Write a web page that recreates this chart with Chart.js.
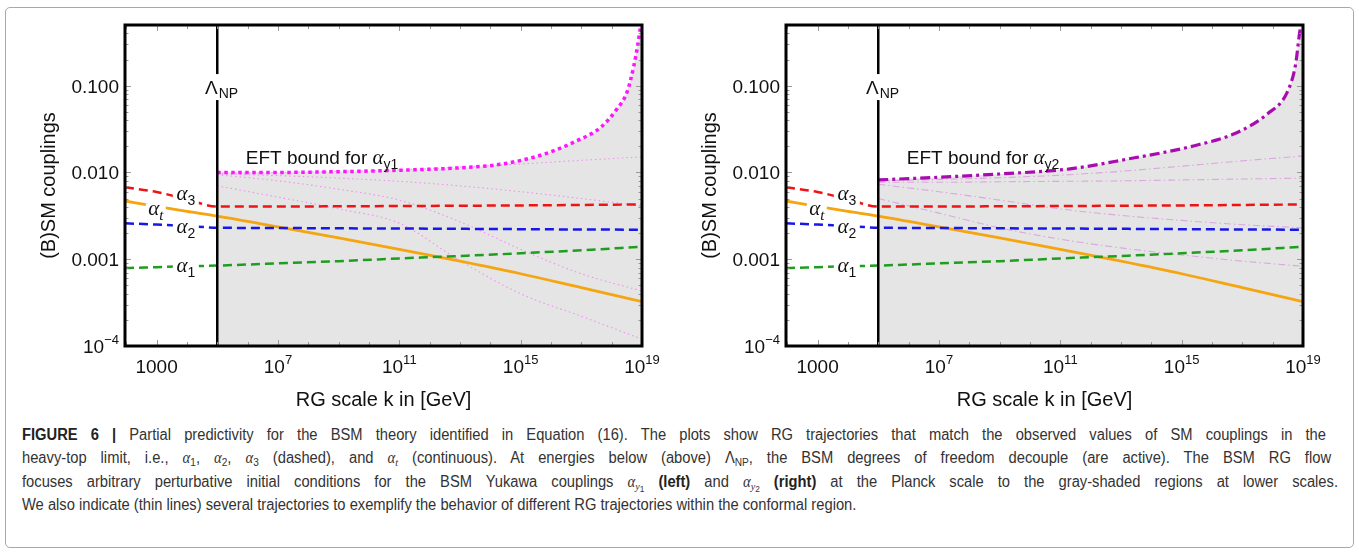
<!DOCTYPE html>
<html>
<head>
<meta charset="utf-8">
<script src="https://cdn.jsdelivr.net/npm/chart.js@4.4.1/dist/chart.umd.min.js"></script>
<style>
  body { margin: 0; background: #fff; width: 1359px; height: 552px; overflow: hidden; position: relative; }
  #box { position: absolute; left: 5px; top: 7px; width: 1349px; height: 541px; border: 1px solid #a8a8a8; border-radius: 5px; box-sizing: border-box; }
  canvas { position: absolute; top: 0; }
  #left { left: 0; }
  #right { left: 661px; }
  .ln { position: absolute; left: 22px; white-space: nowrap; font-family: "Liberation Sans", Arial, sans-serif;
        font-size: 16px; line-height: 20px; color: #333; transform-origin: 0 50%; }
  .ln b { color: #222; }
  .ln i { font-family: "Liberation Serif", serif; }
  .ln sub { font-size: 11px; line-height: 0; vertical-align: -3px; }
  .ln sub sub { font-size: 9px; vertical-align: -2px; }
</style>
</head>
<body>
<div id="box"></div>
<canvas id="left" width="680" height="420"></canvas>
<canvas id="right" width="680" height="420"></canvas>

<div class="ln" style="top:425px" data-w="1304"><b>FIGURE 6 |</b> Partial predictivity for the BSM theory identified in Equation (16). The plots show RG trajectories that match the observed values of SM couplings in the</div>
<div class="ln" style="top:448px" data-w="1309">heavy-top limit, i.e., <i>α</i><sub>1</sub>, <i>α</i><sub>2</sub>, <i>α</i><sub>3</sub> (dashed), and <i>α<sub>t</sub></i> (continuous). At energies below (above) Λ<sub>NP</sub>, the BSM degrees of freedom decouple (are active). The BSM RG flow</div>
<div class="ln" style="top:472px" data-w="1316">focuses arbitrary perturbative initial conditions for the BSM Yukawa couplings <i>α</i><sub><i>y</i><sub>1</sub></sub> <b>(left)</b> and <i>α</i><sub><i>y</i><sub>2</sub></sub> <b>(right)</b> at the Planck scale to the gray-shaded regions at lower scales.</div>
<div class="ln" style="top:495px" data-w="834">We also indicate (thin lines) several trajectories to exemplify the behavior of different RG trajectories within the conformal region.</div>

<script>
// RG scale k [GeV] where the SM couplings are read
const kSM = [91, 1e3, 1e4, 1e5, 1e7, 1e9, 1e11, 1e13, 1e15, 1e17, 1e19];
const alpha3 = [0.00675, 0.00596, 0.0049, 0.00404, 0.00405, 0.00407, 0.0041, 0.00413, 0.00417, 0.00422, 0.00428];
const alpha2 = [0.00259, 0.00251, 0.00241, 0.00231, 0.00229, 0.00227, 0.00226, 0.00224, 0.00222, 0.0022, 0.00219];
const alpha1 = [0.00079, 0.00081, 0.00083, 0.000845, 0.000895, 0.00095, 0.00102, 0.00109, 0.00117, 0.00127, 0.00139];
const alphaT = [0.00469, 0.00406, 0.00356, 0.00314, 0.00236, 0.00176, 0.0013, 0.00095, 0.00068, 0.00047, 0.000325];

const lambdaNP = 1e5;

// EFT bounds (upper edge of the gray region)
const kBound1 = [1e5, 1e7, 1e9, 1e11, 1e13, 2.1e14, 5.8e15, 7.2e16, 4.3e17, 1.5e18, 3.2e18, 5.4e18, 7.2e18, 8.9e18, 1e19];
const boundY1 = [0.0100, 0.0100, 0.0102, 0.0106, 0.0113, 0.0124, 0.0162, 0.0232, 0.033, 0.054, 0.084, 0.17, 0.29, 0.47, 0.6];
const kBound2 = [1e5, 1e7, 1e9, 2.1e11, 1.55e13, 2.45e15, 6.8e16, 6.6e17, 3e18, 5.6e18, 8.1e18, 1e19];
const boundY2 = [0.0082, 0.0088, 0.0096, 0.011, 0.0142, 0.0202, 0.0289, 0.0471, 0.0838, 0.17, 0.45, 0.6];

// thin trajectories inside the conformal region
const kThin = [1e5, 1e7, 1e9, 1e11, 1e13, 1e15, 1e17, 1e19];
const thinY1 = [
  [0.0098, 0.0100, 0.0103, 0.0107, 0.0115, 0.0125, 0.0138, 0.0151],
  [0.0096, 0.0092, 0.0086, 0.0079, 0.0070, 0.0060, 0.0050, 0.0041],
  [0.0094, 0.0080, 0.0064, 0.0048, 0.0027, 0.0013, 0.00068, 0.00043],
  [0.0070, 0.0052, 0.0038, 0.0026, 0.00096, 0.0004, 0.00022, 0.00012]
];
const thinY2 = [
  [0.0080, 0.0083, 0.0087, 0.0093, 0.0103, 0.0118, 0.0136, 0.0155],
  [0.0077, 0.0077, 0.0078, 0.0079, 0.0080, 0.0082, 0.0084, 0.0086],
  [0.0073, 0.0060, 0.0048, 0.0038, 0.0032, 0.0028, 0.0025, 0.0023],
  [0.0050, 0.0034, 0.0023, 0.0017, 0.00135, 0.00112, 0.00095, 0.00083]
];

const xTickValues = [1e3, 1e7, 1e11, 1e15, 1e19];
const xTickLabels = [['1000', ''], ['10', '7'], ['10', '11'], ['10', '15'], ['10', '19']];
const yTickValues = [1e-4, 1e-3, 1e-2, 1e-1];
const yTickLabels = [['10', '\u22124'], ['0.001', ''], ['0.010', ''], ['0.100', '']];

const SANS = '"Liberation Sans", Arial, sans-serif';
const SERIF = '"Liberation Serif", "Times New Roman", serif';

function pts(ks, vs) { return ks.map((k, i) => ({ x: k, y: vs[i] })); }

// draws a row of [text, font, dy] pieces, returns the width
function pieces(ctx, x, y, list, align) {
  let w = 0;
  list.forEach(p => { ctx.font = p[1]; w += ctx.measureText(p[0]).width; });
  let cx = align === 'center' ? x - w / 2 : align === 'right' ? x - w : x;
  list.forEach(p => { ctx.font = p[1]; ctx.fillText(p[0], cx, y + (p[2] || 0)); cx += ctx.measureText(p[0]).width; });
  return w;
}

const alphaFont = 'italic 21px ' + SERIF;
const subFont = '14px ' + SANS;

const deco = {
  id: 'deco',
  afterDatasetsDraw(chart, args, o) {
    const { ctx, chartArea: a, scales: { x, y } } = chart;
    ctx.save();
    ctx.textBaseline = 'alphabetic';

    // Lambda_NP line
    const xl = x.getPixelForValue(lambdaNP);
    ctx.strokeStyle = '#000';
    ctx.lineWidth = 2.5;
    ctx.beginPath(); ctx.moveTo(xl, a.top); ctx.lineTo(xl, a.bottom); ctx.stroke();

    // coupling labels with white boxes
    const lab = (k, v, main, sub, italicSub, bw, bh) => {
      const px = x.getPixelForValue(k), py = y.getPixelForValue(v);
      ctx.fillStyle = '#fff';
      ctx.fillRect(px - bw / 2, py - bh / 2, bw, bh);
      ctx.fillStyle = '#111';
      pieces(ctx, px, py + 5, [[main, alphaFont], [sub, italicSub ? 'italic 15px ' + SERIF : subFont, 5]], 'center');
    };
    lab(9200, 0.00545, '\u03b1', '3', false, 26, 18);
    lab(9200, 0.00232, '\u03b1', '2', false, 26, 18);
    lab(9200, 0.000824, '\u03b1', '1', false, 26, 18);
    lab(940, 0.00366, '\u03b1', 't', true, 20, 14);

    // Lambda_NP label
    const yl = y.getPixelForValue(0.08);
    ctx.fillStyle = '#fff';
    ctx.fillRect(xl - 3, yl - 20, 6, 26);
    ctx.fillStyle = '#111';
    ctx.font = '19px ' + SANS;
    const lw = ctx.measureText('\u039b').width;
    ctx.fillText('\u039b', xl - lw + 0.5, yl);
    ctx.font = '14px ' + SANS;
    ctx.fillText('NP', xl + 1.5, yl + 4);

    // EFT bound label
    const ex = x.getPixelForValue(8.7e5), ey = y.getPixelForValue(0.01245);
    pieces(ctx, ex, ey, [['EFT bound for ', '19px ' + SANS], ['\u03b1', alphaFont], [o.sub, subFont, 5]], 'left');

    // ticks
    ctx.strokeStyle = '#999';
    ctx.lineWidth = 1;
    ctx.beginPath();
    for (let e = -4; e <= -1; e++) {
      for (let m = 1; m <= 9; m++) {
        const v = m * Math.pow(10, e);
        if (v > y.max) break;
        const py = Math.round(y.getPixelForValue(v)) + 0.5;
        const len = m === 1 ? 6 : 3.5;
        ctx.moveTo(a.left, py); ctx.lineTo(a.left + len, py);
        ctx.moveTo(a.right, py); ctx.lineTo(a.right - len, py);
      }
    }
    for (let e = 2; e <= 19; e++) {
      const px = Math.round(x.getPixelForValue(Math.pow(10, e))) + 0.5;
      const len = (e - 3) % 4 === 0 ? 6 : 4;
      ctx.moveTo(px, a.bottom); ctx.lineTo(px, a.bottom - len);
      ctx.moveTo(px, a.top); ctx.lineTo(px, a.top + len);
    }
    ctx.stroke();

    // frame
    ctx.strokeStyle = '#000';
    ctx.lineWidth = 3;
    ctx.strokeRect(a.left, a.top, a.right - a.left, a.bottom - a.top);

    // tick labels
    ctx.fillStyle = '#111';
    xTickValues.forEach((v, i) => {
      const px = x.getPixelForValue(v);
      const l = xTickLabels[i];
      pieces(ctx, px, a.bottom + 27, [[l[0], '19px ' + SANS], [l[1], '13px ' + SANS, -9]], 'center');
    });
    yTickValues.forEach((v, i) => {
      const py = y.getPixelForValue(v);
      const l = yTickLabels[i];
      pieces(ctx, a.left - 6, py + 7, [[l[0], '19px ' + SANS], [l[1], '13px ' + SANS, -9]], 'right');
    });

    // axis titles
    ctx.font = '20px ' + SANS;
    ctx.textAlign = 'center';
    ctx.fillText('RG scale k in [GeV]', (a.left + a.right) / 2, 406);
    ctx.save();
    ctx.translate(55, (a.top + a.bottom) / 2);
    ctx.rotate(-Math.PI / 2);
    ctx.fillText('(B)SM couplings', 0, 0);
    ctx.restore();

    ctx.restore();
  }
};

function makePanel(id, kBound, bound, boundColor, boundDash, boundWidth, thin, thinColor, thinDash, sub) {
  const sm = (data, color, dash, w) => ({
    data: pts(kSM, data), borderColor: color, borderWidth: w || 2.5, borderDash: dash,
    pointRadius: 0, fill: false, cubicInterpolationMode: 'monotone'
  });
  const datasets = [
    sm(alpha3, '#ee1414', [9, 5]),
    sm(alpha2, '#1717e8', [9, 5]),
    sm(alpha1, '#1f9d1f', [9, 5]),
    sm(alphaT, '#f5a50f', [], 2.8),
    {
      data: pts(kBound, bound), borderColor: boundColor, borderWidth: boundWidth, borderDash: boundDash,
      pointRadius: 0, fill: 'start', backgroundColor: '#e5e5e5', cubicInterpolationMode: 'monotone'
    }
  ];
  thin.forEach(t => datasets.push({
    data: pts(kThin, t), borderColor: thinColor, borderWidth: 1.1, borderDash: thinDash,
    pointRadius: 0, fill: false, cubicInterpolationMode: 'monotone'
  }));

  new Chart(document.getElementById(id), {
    type: 'line',
    data: { datasets },
    options: {
      responsive: false,
      animation: false,
      devicePixelRatio: 1,
      events: [],
      layout: { padding: { left: 125, right: 38, top: 25, bottom: 74 } },
      scales: {
        x: { type: 'logarithmic', min: 91, max: 1e19, display: false },
        y: { type: 'logarithmic', min: 1e-4, max: 0.5, display: false }
      },
      plugins: {
        legend: { display: false },
        tooltip: { enabled: false },
        filler: { drawTime: 'beforeDatasetsDraw' },
        deco: { sub }
      }
    },
    plugins: [deco]
  });
}

makePanel('left', kBound1, boundY1, '#ff14ff', [3.5, 3.5], 3.5, thinY1, '#f090f0', [1.5, 3], 'y1');
makePanel('right', kBound2, boundY2, '#a80cb0', [10, 4, 3, 4], 3.2, thinY2, '#dca6e0', [7, 3, 1.5, 3], 'y2');

// caption: last line sets the horizontal scale, the others are justified to the full width
const lines = Array.from(document.querySelectorAll('.ln'));
const last = lines[lines.length - 1];
const s = Number(last.dataset.w) / last.scrollWidth;
lines.forEach(el => {
  if (el !== last) {
    el.style.whiteSpace = 'normal';
    el.style.width = (Number(el.dataset.w) / s) + 'px';
    el.style.textAlign = 'justify';
    el.style.textAlignLast = 'justify';
  }
  el.style.transform = 'scaleX(' + s + ')';
});
</script>
</body>
</html>
